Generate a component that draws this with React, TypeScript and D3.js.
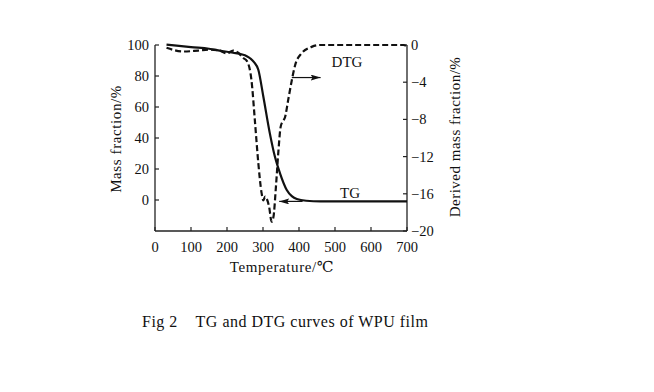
import React, { useRef, useEffect } from "react";
import * as d3 from "d3";

// TG curve (left axis, mass fraction %)
const tgTemps = [32, 60, 100, 150, 180, 217, 240, 255, 265, 275, 287, 301, 319, 333, 347, 366, 380, 394, 420, 460, 550, 700];
const tgValues = [100.3, 99.6, 98.6, 97.6, 96.4, 95, 94, 92.8, 91.3, 89, 84, 66.6, 43, 28, 17.4, 6.5, 2.5, 0.6, -0.5, -0.9, -0.9, -0.9];

// DTG curve (right axis, derived mass fraction %)
const dtgTemps = [32, 78, 120, 153, 180, 199, 217, 230, 245, 255, 268, 278, 287, 296, 301, 306, 310, 317, 324, 329, 336, 343, 349, 355, 361, 370, 380, 389, 407, 435, 458, 550, 650, 690, 700];
const dtgValues = [-0.3, -0.7, -0.6, -0.5, -0.6, -0.9, -0.6, -0.8, -1.4, -1.7, -3.8, -8.4, -12.7, -15.9, -16.7, -16.3, -16.5, -17.4, -19, -18.5, -15.2, -11.3, -8.8, -8.2, -7.8, -5.9, -3.8, -2.2, -0.9, -0.2, 0, 0, 0, 0, -0.15];

const xTicks = [0, 100, 200, 300, 400, 500, 600, 700];
const leftTicks = [0, 20, 40, 60, 80, 100];
const rightTicks = [0, -4, -8, -12, -16, -20];

const FONT = "'Liberation Serif', 'DejaVu Serif', serif";

const App: React.FC = () => {
  const svgRef = useRef<SVGSVGElement | null>(null);

  useEffect(() => {
    const svg = d3.select(svgRef.current);
    svg.selectAll("*").remove();

    const left = 155, right = 407, top = 45, bottom = 231;

    const x = d3.scaleLinear().domain([0, 700]).range([left, right]);
    const yL = d3.scaleLinear().domain([-20, 100]).range([bottom, top]);
    const yR = d3.scaleLinear().domain([-20, 0]).range([bottom, top]);

    const axisColor = "#222";

    // arrow marker
    svg
      .append("defs")
      .append("marker")
      .attr("id", "arr")
      .attr("viewBox", "0 0 10 6")
      .attr("refX", 10)
      .attr("refY", 3)
      .attr("markerWidth", 10)
      .attr("markerHeight", 6)
      .attr("markerUnits", "userSpaceOnUse")
      .attr("orient", "auto")
      .append("path")
      .attr("d", "M0,0 L10,3 L0,6 L2,3 Z")
      .attr("fill", "#111");

    // axes lines
    const g = svg.append("g");
    g.append("line").attr("x1", left).attr("x2", left).attr("y1", top).attr("y2", bottom)
      .attr("stroke", axisColor).attr("stroke-width", 1.3);
    g.append("line").attr("x1", right).attr("x2", right).attr("y1", top).attr("y2", bottom)
      .attr("stroke", axisColor).attr("stroke-width", 1.3);
    g.append("line").attr("x1", left).attr("x2", right).attr("y1", bottom).attr("y2", bottom)
      .attr("stroke", axisColor).attr("stroke-width", 1.3);

    // x ticks
    xTicks.forEach((t) => {
      g.append("line").attr("x1", x(t)).attr("x2", x(t)).attr("y1", bottom).attr("y2", bottom - 4)
        .attr("stroke", axisColor).attr("stroke-width", 1.2);
      g.append("text").attr("x", x(t)).attr("y", 252).attr("text-anchor", "middle")
        .attr("font-family", FONT).attr("font-size", 14.5).attr("fill", "#111").text(String(t));
    });

    // left ticks
    leftTicks.forEach((t) => {
      g.append("line").attr("x1", left).attr("x2", left + 4).attr("y1", yL(t)).attr("y2", yL(t))
        .attr("stroke", axisColor).attr("stroke-width", 1.2);
      g.append("text").attr("x", 149).attr("y", yL(t) + 5).attr("text-anchor", "end")
        .attr("font-family", FONT).attr("font-size", 14.5).attr("fill", "#111").text(String(t));
    });

    // right ticks
    rightTicks.forEach((t) => {
      g.append("line").attr("x1", right).attr("x2", right - 4).attr("y1", yR(t)).attr("y2", yR(t))
        .attr("stroke", axisColor).attr("stroke-width", 1.2);
      g.append("text").attr("x", 411).attr("y", yR(t) + 5).attr("text-anchor", "start")
        .attr("font-family", FONT).attr("font-size", 14.5).attr("fill", "#111")
        .text(t === 0 ? "0" : `\u2212${Math.abs(t)}`);
    });

    // curves
    const tgData = tgTemps.map((t, i) => [t, tgValues[i]] as [number, number]);
    const dtgData = dtgTemps.map((t, i) => [t, dtgValues[i]] as [number, number]);

    const tgLine = d3.line<[number, number]>()
      .x((d) => x(d[0])).y((d) => yL(d[1])).curve(d3.curveMonotoneX);
    const dtgLine = d3.line<[number, number]>()
      .x((d) => x(d[0])).y((d) => yR(d[1])).curve(d3.curveMonotoneX);

    g.append("path").datum(dtgData).attr("d", dtgLine).attr("fill", "none")
      .attr("stroke", "#111").attr("stroke-width", 2.2).attr("stroke-dasharray", "6,3");
    g.append("path").datum(tgData).attr("d", tgLine).attr("fill", "none")
      .attr("stroke", "#111").attr("stroke-width", 2.2);

    // arrows
    g.append("line").attr("x1", x(380)).attr("x2", x(460)).attr("y1", yR(-3.5)).attr("y2", yR(-3.5))
      .attr("stroke", "#111").attr("stroke-width", 1.2).attr("marker-end", "url(#arr)");
    g.append("line").attr("x1", x(410)).attr("x2", x(345)).attr("y1", yL(-0.9)).attr("y2", yL(-0.9))
      .attr("stroke", "#111").attr("stroke-width", 1.2).attr("marker-end", "url(#arr)");

    // curve labels
    g.append("text").attr("x", 347).attr("y", 67).attr("text-anchor", "middle")
      .attr("font-family", FONT).attr("font-size", 15).attr("fill", "#111").text("DTG");
    g.append("text").attr("x", 350).attr("y", 198).attr("text-anchor", "middle")
      .attr("font-family", FONT).attr("font-size", 15).attr("fill", "#111").text("TG");

    // axis titles
    g.append("text").attr("transform", `translate(121, 139) rotate(-90)`).attr("text-anchor", "middle")
      .attr("font-family", FONT).attr("font-size", 15).attr("letter-spacing", 0.6)
      .attr("fill", "#111").text("Mass fraction/%");
    g.append("text").attr("transform", `translate(460, 137) rotate(-90)`).attr("text-anchor", "middle")
      .attr("font-family", FONT).attr("font-size", 15).attr("letter-spacing", 0.5)
      .attr("fill", "#111").text("Derived mass fraction/%");
    g.append("text").attr("x", 282).attr("y", 272).attr("text-anchor", "middle")
      .attr("font-family", FONT).attr("font-size", 15).attr("letter-spacing", 0.6)
      .attr("fill", "#111").text("Temperature/\u2103");

    // caption
    g.append("text").attr("x", 142).attr("y", 327).attr("text-anchor", "start")
      .attr("font-family", FONT).attr("font-size", 16).attr("letter-spacing", 0.5)
      .attr("fill", "#111")
      .attr("xml:space", "preserve")
      .text("Fig 2    TG and DTG curves of WPU film");
  }, []);

  return (
    <svg
      ref={svgRef}
      width={654}
      height={392}
      style={{ position: "absolute", left: 0, top: 0, background: "#fff" }}
    ></svg>
  );
};

export default App;
